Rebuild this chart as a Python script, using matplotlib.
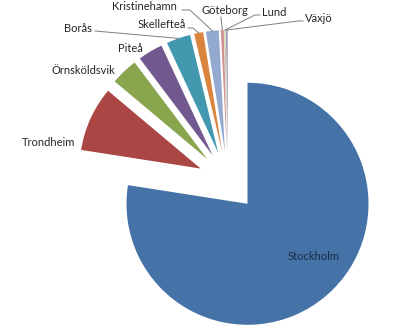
import numpy as np
import matplotlib.pyplot as plt

# share of total per city, clockwise from 12 o'clock
cities = ['Stockholm', 'Trondheim', 'Örnsköldsvik', 'Piteå', 'Borås',
          'Skellefteå', 'Kristinehamn', 'Göteborg', 'Lund', 'Växjö']
shares = [77.0, 8.6, 3.6, 3.3, 3.2, 1.2, 1.7, 0.4, 0.15, 0.25]
colors = ['#4573A7', '#AA4643', '#89A54E', '#71588F', '#4198AF',
          '#DB843D', '#93A9CF', '#D19392', '#B9CD96', '#A99BBD']

W, H = 393, 333

# label layout in pixel coords (x, y from top); leader = start of leader line
label_pos = {
    'Stockholm': (314, 257), 'Trondheim': (49, 143), 'Örnsköldsvik': (83, 70),
    'Piteå': (130, 49), 'Borås': (78, 28), 'Skellefteå': (162, 25),
    'Kristinehamn': (144, 7), 'Göteborg': (225, 10), 'Lund': (274, 13),
    'Växjö': (319, 18),
}
leader_start = {
    'Borås': [(95, 31)], 'Skellefteå': [(188, 28), (193, 28)],
    'Kristinehamn': [(182, 10), (190, 10)], 'Göteborg': [(221, 17)],
    'Lund': [(260, 15), (255, 15)], 'Växjö': [(303, 21), (298, 21)],
}

fig = plt.figure(figsize=(W / 100, H / 100), dpi=100)
ax = fig.add_axes([0, 0, 1, 1])

wedges, _ = ax.pie(shares, colors=colors, startangle=90, counterclock=False,
                   explode=[30] * len(shares), radius=121, center=(228, H - 181),
                   wedgeprops=dict(linewidth=0))
ax.set_xlim(0, W)
ax.set_ylim(0, H)
ax.set_aspect('equal')
ax.axis('off')

for w, name in zip(wedges, cities):
    x, y = label_pos[name]
    col = '#1B2A44' if name == 'Stockholm' else '#262626'
    ax.text(x, H - y, name, ha='center', va='center', fontsize=8,
            family=['Lato', 'DejaVu Sans'], color=col)
    if name in leader_start:
        mid = np.deg2rad((w.theta1 + w.theta2) / 2)
        cx, cy = w.center
        end = (cx + w.r * np.cos(mid), cy + w.r * np.sin(mid))
        pts = [(px, H - py) for px, py in leader_start[name]] + [end]
        xs, ys = zip(*pts)
        ax.plot(xs, ys, color='#7F7F7F', lw=0.7)

fig.savefig('out.png', dpi=100)
